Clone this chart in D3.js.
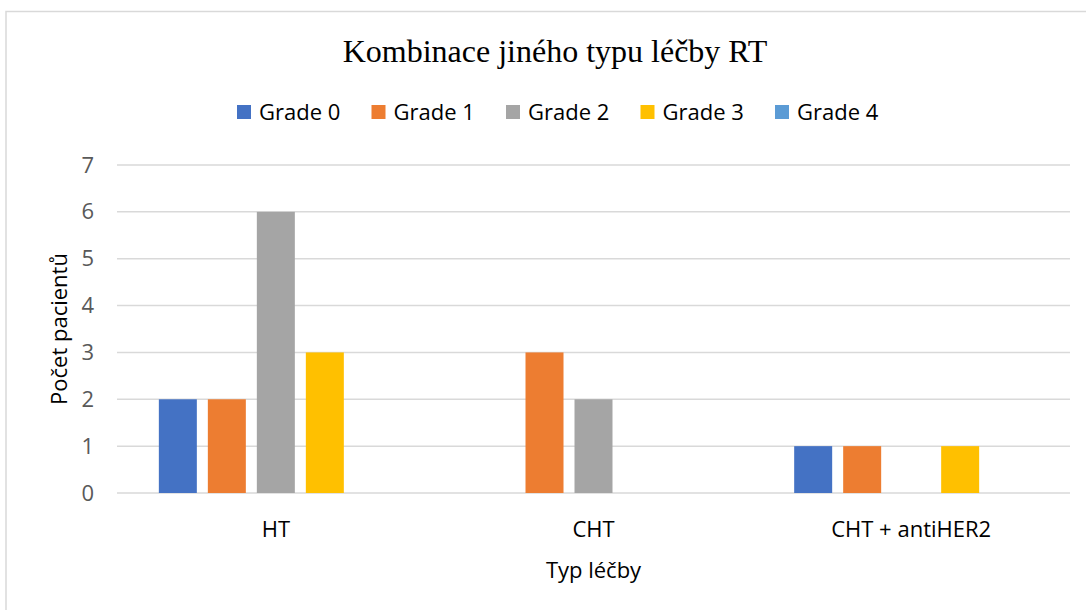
<!DOCTYPE html>
<html>
<head>
<meta charset="utf-8">
<script src="https://cdn.jsdelivr.net/npm/d3@7"></script>
<style>
  body { margin: 0; background: #fff; }
  svg { display: block; }
</style>
</head>
<body>
<div id="chart"></div>
<script>
var categories = ["HT", "CHT", "CHT + antiHER2"];
var seriesNames = ["Grade 0", "Grade 1", "Grade 2", "Grade 3", "Grade 4"];
var grade0 = [2, 0, 1];
var grade1 = [2, 3, 1];
var grade2 = [6, 2, 0];
var grade3 = [3, 0, 1];
var grade4 = [0, 0, 0];
var yTicks = [0, 1, 2, 3, 4, 5, 6, 7];
var colors = ["#4472C4", "#ED7D31", "#A5A5A5", "#FFC000", "#5B9BD5"];

var seriesValues = [grade0, grade1, grade2, grade3, grade4];

var width = 1086, height = 610;
var margin = {top: 165, right: 16, bottom: 117, left: 117};
var sans = "'Open Sans', sans-serif";

var svg = d3.select("#chart").append("svg")
    .attr("width", width)
    .attr("height", height);

// chart border
svg.append("rect")
    .attr("x", 6).attr("y", 11.5)
    .attr("width", width + 10).attr("height", height + 10)
    .attr("fill", "none")
    .attr("stroke", "#d9d9d9")
    .attr("stroke-width", 1.5);

var x0 = d3.scaleBand()
    .domain(categories)
    .range([margin.left, width - margin.right])
    .paddingInner(0).paddingOuter(0);

var x1 = d3.scaleBand()
    .domain(seriesNames)
    .range([0, x0.bandwidth()])
    .paddingInner(0.2245)
    .paddingOuter(0.854);

var y = d3.scaleLinear()
    .domain([0, 7])
    .range([height - margin.bottom, margin.top]);

// gridlines
svg.append("g")
  .selectAll("line")
  .data(yTicks)
  .enter().append("line")
    .attr("x1", margin.left)
    .attr("x2", width - margin.right)
    .attr("y1", function(d){ return y(d); })
    .attr("y2", function(d){ return y(d); })
    .attr("stroke", "#d9d9d9")
    .attr("stroke-width", 1.5);

// y tick labels
var yAxis = svg.append("g")
    .attr("transform", "translate(94,0)")
    .call(d3.axisLeft(y).tickValues(yTicks).tickFormat(d3.format("d")).tickSize(0).tickPadding(0));
yAxis.select(".domain").remove();
yAxis.selectAll("text")
    .attr("fill", "#595959")
    .style("font-family", sans)
    .style("font-size", "22px");

// bars
var groups = svg.append("g")
  .selectAll("g")
  .data(categories)
  .enter().append("g")
    .attr("transform", function(d){ return "translate(" + x0(d) + ",0)"; });

groups.selectAll("rect")
  .data(function(d, i){
    return seriesNames.map(function(s, j){ return {series: s, value: seriesValues[j][i], color: colors[j]}; });
  })
  .enter().append("rect")
    .attr("x", function(d){ return x1(d.series); })
    .attr("width", x1.bandwidth())
    .attr("y", function(d){ return y(d.value); })
    .attr("height", function(d){ return y(0) - y(d.value); })
    .attr("fill", function(d){ return d.color; });

// category labels
var xAxis = svg.append("g")
    .attr("transform", "translate(0," + y(0) + ")")
    .call(d3.axisBottom(x0).tickSize(0).tickPadding(0));
xAxis.select(".domain").remove();
xAxis.selectAll("text")
    .attr("dy", null)
    .attr("y", 44)
    .attr("fill", "#000")
    .style("font-family", sans)
    .style("font-size", "22px");

// title
svg.append("text")
    .attr("x", 555).attr("y", 62)
    .attr("text-anchor", "middle")
    .style("font-family", "'Liberation Serif', serif")
    .style("font-size", "32px")
    .text("Kombinace jiného typu léčby RT");

// axis titles
svg.append("text")
    .attr("x", (margin.left + width - margin.right) / 2).attr("y", 578)
    .attr("text-anchor", "middle")
    .style("font-family", sans)
    .style("font-size", "22px")
    .text("Typ léčby");

svg.append("text")
    .attr("transform", "translate(67," + ((margin.top + height - margin.bottom) / 2) + ") rotate(-90)")
    .attr("text-anchor", "middle")
    .style("font-family", sans)
    .style("font-size", "22px")
    .text("Počet pacientů");

// legend
var legend = svg.append("g")
  .selectAll("g")
  .data(seriesNames)
  .enter().append("g")
    .attr("transform", function(d, i){ return "translate(" + (237 + i * 134.5) + ",105)"; });

legend.append("rect")
    .attr("width", 14).attr("height", 14)
    .attr("fill", function(d, i){ return colors[i]; });

legend.append("text")
    .attr("x", 22).attr("y", 15)
    .style("font-family", sans)
    .style("font-size", "22px")
    .text(function(d){ return d; });
</script>
</body>
</html>
